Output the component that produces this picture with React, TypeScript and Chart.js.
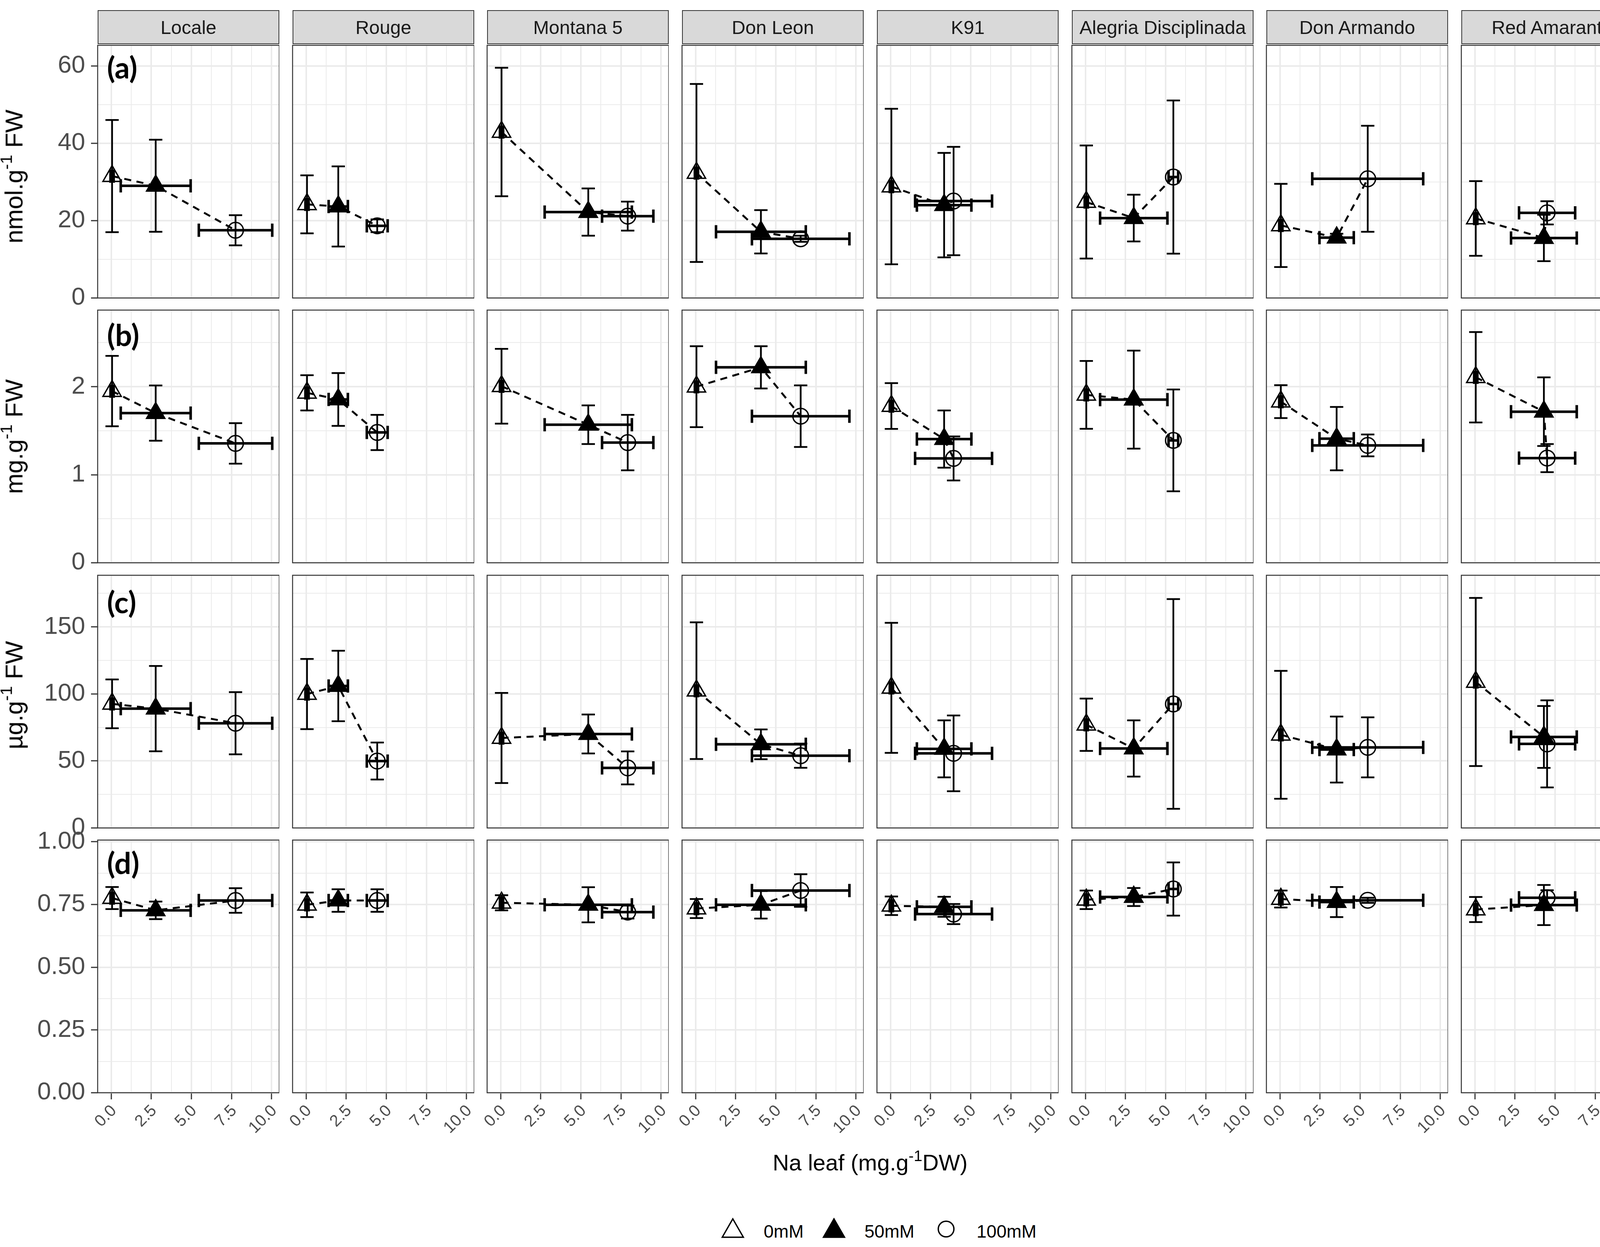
import React, { useEffect, useRef } from "react";
import { Chart, registerables } from "chart.js";

Chart.register(...registerables);

// ---------------- data ----------------
const cultivars = ["Locale", "Rouge", "Montana 5", "Don Leon", "K91", "Alegria Disciplinada", "Don Armando", "Red Amaranth"];
const treatments = ["0mM", "50mM", "100mM"];
const measures = ["MDA", "Total phenolics", "Total flavonoids", "Ascorbate - ratio Oxy/Tot"];
const panelTags = ["(a)", "(b)", "(c)", "(d)"];
const yTitles = [["nmol.g", " FW"], ["mg.g", " FW"], ["\u00b5g.g", " FW"], null];

// Na leaf (mg.g-1 DW): mean and SD per cultivar, for 0 / 50 / 100 mM
const naLeafMean = [
  [0.05, 2.77, 7.75],
  [0.05, 2.0, 4.43],
  [0.05, 5.46, 7.92],
  [0.05, 4.07, 6.55],
  [0.05, 3.34, 3.93],
  [0.05, 3.01, 5.48],
  [0.05, 3.53, 5.47],
  [0.05, 4.3, 4.5],
];
const naLeafSd = [
  [0.1, 2.18, 2.29],
  [0.1, 0.6, 0.65],
  [0.1, 2.72, 1.6],
  [0.1, 2.8, 3.04],
  [0.1, 1.7, 2.4],
  [0.1, 2.1, 0.3],
  [0.1, 1.07, 3.46],
  [0.1, 2.05, 1.75],
];

// (a) MDA, nmol.g-1 FW
const mdaMean = [
  [31.5, 29.0, 17.5],
  [24.2, 23.65, 18.65],
  [42.9, 22.2, 21.15],
  [32.3, 17.1, 15.3],
  [28.8, 24.0, 25.05],
  [24.8, 20.65, 31.25],
  [18.75, 15.6, 30.8],
  [20.55, 15.5, 22.0],
];
const mdaSd = [
  [14.5, 11.9, 3.9],
  [7.5, 10.35, 1.65],
  [16.6, 6.1, 3.75],
  [23.0, 5.6, 0.8],
  [20.1, 13.5, 14.0],
  [14.6, 6.05, 19.8],
  [10.75, 1.0, 13.7],
  [9.65, 6.0, 3.0],
];

// (b) Total phenolics, mg.g-1 FW
const phenolicsMean = [
  [1.95, 1.7, 1.356],
  [1.93, 1.855, 1.48],
  [2.005, 1.568, 1.365],
  [2.0, 2.22, 1.665],
  [1.78, 1.405, 1.185],
  [1.907, 1.853, 1.39],
  [1.83, 1.41, 1.333],
  [2.107, 1.716, 1.189],
];
const phenolicsSd = [
  [0.4, 0.314, 0.23],
  [0.2, 0.3, 0.2],
  [0.425, 0.22, 0.315],
  [0.46, 0.24, 0.35],
  [0.26, 0.325, 0.25],
  [0.385, 0.557, 0.578],
  [0.187, 0.36, 0.124],
  [0.513, 0.39, 0.16],
];

// (c) Total flavonoids, ug.g-1 FW
const flavonoidsMean = [
  [92.6, 89.0, 78.1],
  [99.9, 105.9, 49.9],
  [67.1, 70.1, 44.8],
  [102.4, 62.4, 53.9],
  [104.5, 59.0, 55.65],
  [77.0, 59.3, 92.5],
  [69.5, 58.5, 60.1],
  [108.9, 67.9, 62.7],
];
const flavonoidsSd = [
  [18.2, 31.8, 23.2],
  [26.2, 26.3, 13.8],
  [33.6, 14.5, 12.3],
  [51.0, 11.1, 9.0],
  [48.5, 21.3, 28.25],
  [19.5, 21.0, 78.2],
  [47.7, 24.6, 22.4],
  [62.7, 23.1, 32.5],
];

// (d) Ascorbate ratio Oxy/Tot
const ascorbateMean = [
  [0.776, 0.727, 0.766],
  [0.749, 0.766, 0.766],
  [0.757, 0.749, 0.72],
  [0.734, 0.749, 0.806],
  [0.745, 0.741, 0.712],
  [0.769, 0.78, 0.812],
  [0.772, 0.76, 0.767],
  [0.73, 0.748, 0.777],
];
const ascorbateSd = [
  [0.044, 0.035, 0.049],
  [0.049, 0.045, 0.045],
  [0.03, 0.07, 0.026],
  [0.038, 0.055, 0.065],
  [0.037, 0.04, 0.04],
  [0.037, 0.036, 0.106],
  [0.034, 0.06, 0.01],
  [0.05, 0.08, 0.03],
];

const xMajorTicks = [0, 2.5, 5, 7.5, 10];
const xMinorTicks = [1.25, 3.75, 6.25, 8.75];
const xLimits = [-0.85, 10.48];
const yMajorTicks = [
  [0, 20, 40, 60],
  [0, 1, 2],
  [0, 50, 100, 150],
  [0, 0.25, 0.5, 0.75, 1],
];
const yMinorTicks = [
  [10, 30, 50],
  [0.5, 1.5, 2.5],
  [25, 75, 125, 175],
  [0.125, 0.375, 0.625, 0.875],
];
const yMaxLimits = [65.3, 2.87, 188.5, 1.007];
const yDecimals = [0, 0, 0, 2];

const rowMeans = [mdaMean, phenolicsMean, flavonoidsMean, ascorbateMean];
const rowSds = [mdaSd, phenolicsSd, flavonoidsSd, ascorbateSd];

// ---------------- layout / style ----------------
const FONT = "'Liberation Sans', Arial, Helvetica, sans-serif";
const PANEL_LEFT0 = 250;
const PANEL_PITCH_X = 498.7;
const PANEL_W = 465;
const PANEL_TOP0 = 116;
const PANEL_PITCH_Y = 678.4;
const PANEL_H = 647;
const Y_AXIS_W = 250;
const X_AXIS_H = 140;
const MARGIN = 40;
const SIDE = 60;
const CAP = 17;
const GRID = "#EBEBEB";
const DARK = "#333333";
const STRIP_FONT = 48.5;

const markerStyles = ["triangle", "triangle", "circle"];
const markerRadius = [27, 27, 20];
const markerFill = ["rgba(0,0,0,0)", "#000000", "rgba(0,0,0,0)"];

const panelLeft = (c: number) => PANEL_LEFT0 + Math.round(c * PANEL_PITCH_X);
const panelTop = (r: number) => PANEL_TOP0 + Math.round(r * PANEL_PITCH_Y);
const inList = (v: number, list: number[]) => list.some((m) => Math.abs(m - v) < 1e-9);

type Pt = { x: number; y: number; xsd: number; ysd: number };

function makeOverlayPlugin(pts: Pt[]) {
  return {
    id: "errorBarsAndBorder",
    beforeDatasetsDraw(chart: any) {
      const { ctx, chartArea: a, scales } = chart;
      const xs = scales.x;
      const ys = scales.y;
      ctx.save();
      ctx.beginPath();
      ctx.rect(a.left, a.top, a.right - a.left, a.bottom - a.top);
      ctx.clip();
      ctx.strokeStyle = "#000000";
      ctx.lineCap = "butt";
      for (const p of pts) {
        const px = xs.getPixelForValue(p.x);
        const py = ys.getPixelForValue(p.y);
        const y1 = ys.getPixelForValue(p.y - p.ysd);
        const y2 = ys.getPixelForValue(p.y + p.ysd);
        const x1 = xs.getPixelForValue(p.x - p.xsd);
        const x2 = xs.getPixelForValue(p.x + p.xsd);
        ctx.lineWidth = 4.5;
        ctx.beginPath();
        ctx.moveTo(px, y1);
        ctx.lineTo(px, y2);
        ctx.moveTo(px - CAP, y1);
        ctx.lineTo(px + CAP, y1);
        ctx.moveTo(px - CAP, y2);
        ctx.lineTo(px + CAP, y2);
        ctx.stroke();
        ctx.lineWidth = 6.5;
        ctx.beginPath();
        ctx.moveTo(x1, py);
        ctx.lineTo(x2, py);
        ctx.moveTo(x1, py - CAP);
        ctx.lineTo(x1, py + CAP);
        ctx.moveTo(x2, py - CAP);
        ctx.lineTo(x2, py + CAP);
        ctx.stroke();
      }
      ctx.restore();
    },
    afterDatasetsDraw(chart: any) {
      const { ctx, chartArea: a } = chart;
      ctx.save();
      ctx.strokeStyle = DARK;
      ctx.lineWidth = 2.5;
      ctx.strokeRect(a.left, a.top, a.right - a.left, a.bottom - a.top);
      ctx.restore();
    },
  };
}

function Panel({ r, c }: { r: number; c: number }) {
  const ref = useRef<HTMLCanvasElement | null>(null);
  const isLeft = c === 0;
  const isBottom = r === 3;
  const leftExtra = isLeft ? Y_AXIS_W : SIDE;
  const left = panelLeft(c) - leftExtra;
  const top = panelTop(r) - MARGIN;
  const width = PANEL_W + leftExtra;
  const height = MARGIN + PANEL_H + (isBottom ? X_AXIS_H : MARGIN);

  useEffect(() => {
    if (!ref.current) return;
    const pts: Pt[] = [0, 1, 2].map((i) => ({
      x: naLeafMean[c][i],
      y: rowMeans[r][c][i],
      xsd: naLeafSd[c][i],
      ysd: rowSds[r][c][i],
    }));
    const yMajor = yMajorTicks[r];
    const yAll = [...yMajor, ...yMinorTicks[r]].sort((a, b) => a - b);
    const xAll = [...xMajorTicks, ...xMinorTicks].sort((a, b) => a - b);

    const chart = new Chart(ref.current, {
      type: "scatter",
      data: {
        datasets: [
          ...pts.map((p, i) => ({
            label: treatments[i],
            data: [{ x: p.x, y: p.y }],
            pointStyle: markerStyles[i] as any,
            pointRadius: markerRadius[i],
            pointBackgroundColor: markerFill[i],
            pointBorderColor: "#000000",
            pointBorderWidth: 3.5,
            showLine: false,
          })),
          {
            label: "trend",
            data: pts.map((p) => ({ x: p.x, y: p.y })),
            showLine: true,
            borderColor: "#000000",
            borderWidth: 5,
            borderDash: [18, 14],
            pointRadius: 0,
            fill: false,
            tension: 0,
          },
        ],
      },
      options: {
        animation: false,
        responsive: false,
        devicePixelRatio: 1,
        events: [],
        layout: {
          autoPadding: false,
          padding: { top: MARGIN, bottom: isBottom ? 0 : MARGIN, left: isLeft ? 0 : SIDE, right: 0 },
        },
        plugins: { legend: { display: false }, tooltip: { enabled: false } },
        scales: {
          x: {
            type: "linear",
            min: xLimits[0],
            max: xLimits[1],
            bounds: "data",
            afterBuildTicks: (s: any) => {
              s.ticks = xAll.map((v) => ({ value: v }));
            },
            afterFit: (s: any) => {
              s.height = isBottom ? X_AXIS_H : 0;
              s.paddingLeft = 0;
              s.paddingRight = 0;
              s.paddingTop = 0;
              s.paddingBottom = 0;
            },
            ticks: {
              display: isBottom,
              autoSkip: false,
              minRotation: 45,
              maxRotation: 45,
              padding: 5,
              labelOffset: 7,
              color: "#4D4D4D",
              font: { family: FONT, size: 42 },
              callback: (v: any) => (inList(Number(v), xMajorTicks) ? Number(v).toFixed(1) : ""),
            },
            grid: {
              color: GRID,
              lineWidth: (ctx: any) => (ctx.tick && inList(ctx.tick.value, xMajorTicks) ? 4 : 2),
              drawTicks: isBottom,
              tickLength: 17,
              tickWidth: 3,
              tickColor: (ctx: any) => (ctx.tick && inList(ctx.tick.value, xMajorTicks) ? DARK : "rgba(0,0,0,0)"),
            },
            border: { display: false },
          },
          y: {
            type: "linear",
            min: 0,
            max: yMaxLimits[r],
            bounds: "data",
            afterBuildTicks: (s: any) => {
              s.ticks = yAll.map((v) => ({ value: v }));
            },
            afterFit: (s: any) => {
              s.width = isLeft ? Y_AXIS_W : 0;
              s.paddingLeft = 0;
              s.paddingRight = 0;
              s.paddingTop = 0;
              s.paddingBottom = 0;
            },
            ticks: {
              display: isLeft,
              autoSkip: false,
              padding: 15,
              color: "#4D4D4D",
              font: { family: FONT, size: 63 },
              callback: (v: any) => (inList(Number(v), yMajor) ? Number(v).toFixed(yDecimals[r]) : ""),
            },
            grid: {
              color: GRID,
              lineWidth: (ctx: any) => (ctx.tick && inList(ctx.tick.value, yMajor) ? 4 : 2),
              drawTicks: isLeft,
              tickLength: 17,
              tickWidth: 3,
              tickColor: (ctx: any) => (ctx.tick && inList(ctx.tick.value, yMajor) ? DARK : "rgba(0,0,0,0)"),
            },
            border: { display: false },
          },
        },
      } as any,
      plugins: [makeOverlayPlugin(pts) as any],
    });
    return () => chart.destroy();
  }, [r, c]);

  return (
    <canvas
      ref={ref}
      width={width}
      height={height}
      style={{ position: "absolute", left, top, width, height }}
    />
  );
}

function Sup({ children }: { children: React.ReactNode }) {
  return <span style={{ fontSize: "0.68em", position: "relative", top: "-0.62em" }}>{children}</span>;
}

function TriangleIcon({ filled }: { filled: boolean }) {
  return (
    <svg width={60} height={54} style={{ display: "block" }}>
      <polygon points="30,3 57,50 3,50" fill={filled ? "#000" : "none"} stroke="#000" strokeWidth={3.5} />
    </svg>
  );
}

function CircleIcon() {
  return (
    <svg width={60} height={54} style={{ display: "block" }}>
      <circle cx={30} cy={29} r={20} fill="none" stroke="#000" strokeWidth={3.5} />
    </svg>
  );
}

export default function App() {
  const panels: React.ReactNode[] = [];
  for (let r = 0; r < 4; r++) {
    for (let c = 0; c < 8; c++) {
      panels.push(<Panel key={`${r}-${c}`} r={r} c={c} />);
    }
  }
  const yTitleCenters = [452, 1118, 1780];
  const tagOffsets = [18, 25, 30, 20];
  const legendItems = [
    { icon: <TriangleIcon filled={false} />, x: 1846, tx: 1955 },
    { icon: <TriangleIcon filled={true} />, x: 2105, tx: 2213 },
    { icon: <CircleIcon />, x: 2392, tx: 2500 },
  ];

  return (
    <div
      style={{
        position: "absolute",
        left: 0,
        top: 0,
        width: 4335,
        height: 3193,
        background: "#ffffff",
        overflow: "hidden",
        fontFamily: FONT,
      }}
    >
      {cultivars.map((name, c) => (
        <div
          key={name}
          style={{
            position: "absolute",
            left: panelLeft(c),
            top: 26,
            width: PANEL_W,
            height: 87,
            boxSizing: "border-box",
            background: "#D9D9D9",
            border: `2.5px solid ${DARK}`,
            display: "flex",
            alignItems: "center",
            justifyContent: "center",
            fontSize: STRIP_FONT,
            color: "#1A1A1A",
            whiteSpace: "nowrap",
          }}
        >
          {name}
        </div>
      ))}
      {measures.map((m, r) => (
        <div
          key={m}
          style={{
            position: "absolute",
            left: 4209,
            top: panelTop(r),
            width: 88,
            height: PANEL_H,
            boxSizing: "border-box",
            background: "#D9D9D9",
            border: `2.5px solid ${DARK}`,
            display: "flex",
            alignItems: "center",
            justifyContent: "center",
            writingMode: "vertical-rl",
            fontSize: STRIP_FONT,
            color: "#1A1A1A",
            whiteSpace: "nowrap",
          }}
        >
          {m}
        </div>
      ))}
      {panels}
      {panelTags.map((t, r) => (
        <div
          key={t}
          style={{
            position: "absolute",
            left: PANEL_LEFT0 + 24,
            top: panelTop(r) + tagOffsets[r],
            fontFamily: "Lato, 'Open Sans', sans-serif",
            fontWeight: 700,
            fontSize: 76,
            lineHeight: 1,
            color: "#000",
          }}
        >
          {t}
        </div>
      ))}
      {yTitles.map((t, r) =>
        t ? (
          <div
            key={`yt-${r}`}
            style={{
              position: "absolute",
              left: 36,
              top: yTitleCenters[r],
              transform: "translate(-50%, -50%) rotate(-90deg)",
              whiteSpace: "nowrap",
              fontSize: 63,
              lineHeight: 1,
              color: "#000",
            }}
          >
            {t[0]}
            <Sup>-1</Sup>
            {t[1]}
          </div>
        ) : null
      )}
      <div
        style={{
          position: "absolute",
          left: 0,
          width: 4455,
          top: 2948,
          textAlign: "center",
          fontSize: 58,
          lineHeight: 1,
          color: "#000",
          whiteSpace: "nowrap",
        }}
      >
        Na leaf (mg.g<Sup>-1</Sup>DW)
      </div>
      {legendItems.map((it, i) => (
        <React.Fragment key={treatments[i]}>
          <div style={{ position: "absolute", left: it.x, top: 3118 }}>{it.icon}</div>
          <div
            style={{
              position: "absolute",
              left: it.tx,
              top: 3130,
              fontSize: 46,
              lineHeight: 1,
              color: "#000",
              whiteSpace: "nowrap",
            }}
          >
            {treatments[i]}
          </div>
        </React.Fragment>
      ))}
    </div>
  );
}
